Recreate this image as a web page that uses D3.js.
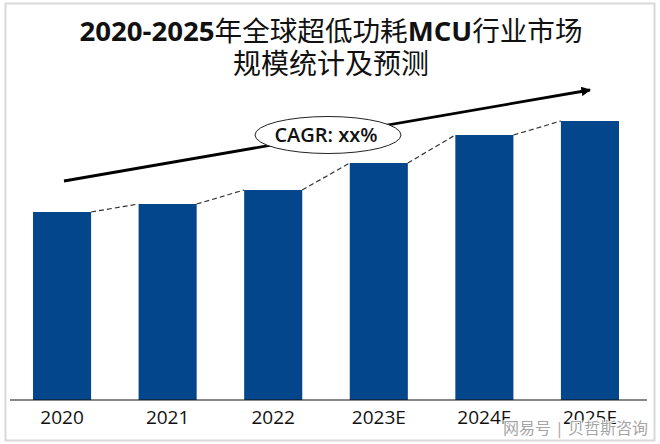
<!DOCTYPE html>
<html>
<head>
<meta charset="utf-8">
<script src="https://cdn.jsdelivr.net/npm/d3@7"></script>
<style>
  html, body { margin: 0; padding: 0; background: #fff; }
  svg { display: block; }
  text { font-family: "Open Sans", "Noto Sans CJK SC", sans-serif; fill: #111; }
</style>
</head>
<body>
<div id="chart"></div>
<script>
// values (no unit shown in the source chart)
var years = ["2020", "2021", "2022", "2023E", "2024E", "2025E"];
var marketSize = [188, 196, 210, 237, 265, 279];
var titleLine1 = [["2020-2025", 700], ["年全球超低功耗", 400], ["MCU", 700], ["行业市场", 400]];
var titleLine2 = "规模统计及预测";

var width = 660, height = 444;

var svg = d3.select("#chart").append("svg")
  .attr("width", width)
  .attr("height", height);

// picture frame
svg.append("rect")
  .attr("x", 5.5).attr("y", 3.5)
  .attr("width", 649).attr("height", 437)
  .attr("fill", "#fff")
  .attr("stroke", "#d9d9d9")
  .attr("stroke-width", 2);

var x = d3.scaleBand()
  .domain(years)
  .range([10, 642])
  .paddingInner(0.45)
  .paddingOuter(0.218);

var y = d3.scaleLinear()
  .domain([0, 279])
  .range([400, 121]);

// title
var t1 = svg.append("text")
  .attr("x", 331).attr("y", 41)
  .attr("text-anchor", "middle")
  .style("font-size", "27.6px");
t1.selectAll("tspan").data(titleLine1).enter().append("tspan")
  .style("font-weight", function (d) { return d[1]; })
  .text(function (d) { return d[0]; });

svg.append("text")
  .attr("x", 331).attr("y", 74)
  .attr("text-anchor", "middle")
  .style("font-size", "28px")
  .text(titleLine2);

// bars
svg.selectAll("rect.bar").data(marketSize).enter().append("rect")
  .attr("class", "bar")
  .attr("x", function (d, i) { return x(years[i]); })
  .attr("y", function (d) { return y(d); })
  .attr("width", x.bandwidth())
  .attr("height", function (d) { return y(0) - y(d); })
  .attr("fill", "#04468c");

// dashed connectors between bar tops
svg.selectAll("line.link").data(d3.pairs(marketSize)).enter().append("line")
  .attr("class", "link")
  .attr("x1", function (d, i) { return x(years[i]) + x.bandwidth(); })
  .attr("y1", function (d) { return y(d[0]); })
  .attr("x2", function (d, i) { return x(years[i + 1]); })
  .attr("y2", function (d) { return y(d[1]); })
  .attr("stroke", "#333")
  .attr("stroke-width", 1.2)
  .attr("stroke-dasharray", "5,3");

// axis
var axis = d3.axisBottom(x).tickSize(0).tickPadding(11);
var gx = svg.append("g")
  .attr("transform", "translate(0,400)")
  .call(axis);
gx.select(".domain").remove();
gx.append("line")
  .attr("x1", 10).attr("x2", 647)
  .attr("stroke", "#111")
  .attr("stroke-width", 1.2);
gx.selectAll(".tick text")
  .style("font-size", "19px")
  .style("font-family", "'Open Sans', sans-serif")
  .attr("fill", "#111");

// CAGR arrow
svg.append("defs").append("marker")
  .attr("id", "head")
  .attr("viewBox", "0 0 10 10")
  .attr("refX", 9).attr("refY", 5)
  .attr("markerWidth", 3.4).attr("markerHeight", 3.4)
  .attr("orient", "auto")
  .append("path")
  .attr("d", "M0,0L10,5L0,10z")
  .attr("fill", "#000");

svg.append("line")
  .attr("x1", 64).attr("y1", 181)
  .attr("x2", 590).attr("y2", 90)
  .attr("stroke", "#000")
  .attr("stroke-width", 2.8)
  .attr("marker-end", "url(#head)");

svg.append("ellipse")
  .attr("cx", 328).attr("cy", 135)
  .attr("rx", 73).attr("ry", 18.5)
  .attr("fill", "#fff")
  .attr("stroke", "#222")
  .attr("stroke-width", 1);

svg.append("text")
  .attr("x", 326).attr("y", 142)
  .attr("text-anchor", "middle")
  .style("font-size", "20px")
  .style("font-weight", 600)
  .text("CAGR: xx%");

// watermark over the corner
svg.append("text")
  .attr("x", 648).attr("y", 434)
  .attr("text-anchor", "end")
  .style("font-size", "16px")
  .style("fill", "#a6a6a6")
  .style("stroke", "#fff")
  .style("stroke-width", 2)
  .style("paint-order", "stroke")
  .text("网易号 | 贝哲斯咨询");
</script>
</body>
</html>
